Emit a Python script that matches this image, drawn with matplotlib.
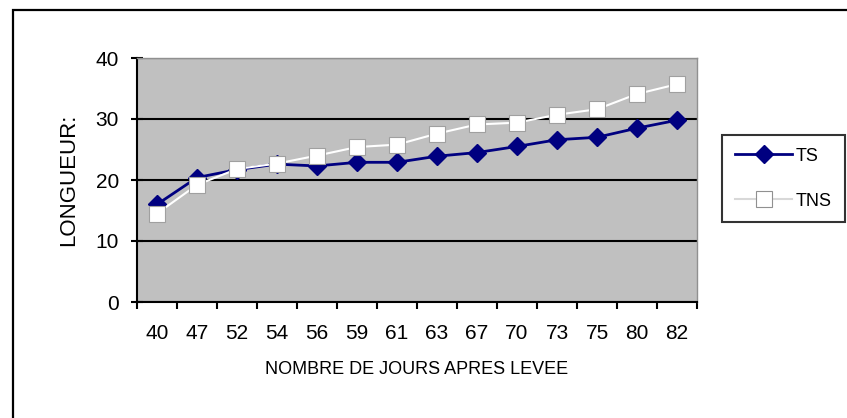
#!/usr/bin/env python3
"""Longueur des plants TS / TNS en fonction du nombre de jours apres levee"""
import numpy as np
import matplotlib.pyplot as plt
from matplotlib.patches import Rectangle

jours = ["40", "47", "52", "54", "56", "59", "61", "63", "67", "70", "73", "75", "80", "82"]
ts = [16.0, 20.4, 21.7, 22.6, 22.3, 22.9, 22.9, 23.9, 24.5, 25.5, 26.6, 27.0, 28.5, 29.8]
tns = [14.5, 19.2, 21.8, 22.7, 24.0, 25.4, 25.8, 27.6, 29.1, 29.4, 30.7, 31.6, 34.1, 35.7]

plt.rcParams["font.family"] = ["Liberation Sans", "DejaVu Sans"]

fig = plt.figure(figsize=(8.47, 4.18), dpi=100)
# cadre du graphique (bords droit et bas hors de l'image)
fig.patches.append(Rectangle((13 / 847, -0.1), 1.1, 1 - 10 / 418 + 0.1,
                             transform=fig.transFigure, fill=False,
                             edgecolor="black", linewidth=1.6))

ax = fig.add_axes([137 / 847, 1 - 302 / 418, 560 / 847, 244 / 418])
ax.set_facecolor("#c0c0c0")

x = np.arange(len(jours))
ax.plot(x, ts, color="#000080", linewidth=2, marker="D", markersize=9,
        markerfacecolor="#000080", markeredgecolor="#000080", label="TS", zorder=3)
ax.plot(x, tns, color="white", linewidth=1.5, marker="s", markersize=11,
        markerfacecolor="white", markeredgecolor="#a0a0a0", markeredgewidth=0.8,
        label="TNS", zorder=4)

ax.set_xlim(-0.5, len(jours) - 0.5)
ax.set_ylim(0, 40)
ax.set_yticks([0, 10, 20, 30, 40])
ax.set_xticks(x)
ax.set_xticklabels(jours)
ax.set_xticks(np.arange(len(jours) + 1) - 0.5, minor=True)
ax.tick_params(axis="x", which="major", length=0, pad=16, labelsize=15)
ax.tick_params(axis="x", which="minor", length=5, width=1.5, direction="out")
ax.tick_params(axis="y", length=8, width=1.5, direction="inout", pad=9, labelsize=15)

ax.grid(axis="y", color="black", linewidth=1.5)
ax.set_axisbelow(True)
for side in ("left", "bottom"):
    ax.spines[side].set_color("black")
    ax.spines[side].set_linewidth(1.5)
for side in ("top", "right"):
    ax.spines[side].set_color("#909090")
    ax.spines[side].set_linewidth(1)

ax.set_xlabel("NOMBRE DE JOURS APRES LEVEE", fontsize=13, labelpad=13)
ax.set_ylabel("LONGUEUR:", fontsize=16, labelpad=12)

leg = fig.legend(loc="upper left", bbox_to_anchor=(722 / 847, 1 - 135 / 418),
                 fontsize=13, frameon=True, fancybox=False, handlelength=3.2,
                 labelspacing=1.55, borderpad=0.7, handletextpad=0.2,
                 borderaxespad=0)
leg.get_frame().set_edgecolor("black")
leg.get_frame().set_linewidth(1.5)
leg.legend_handles[1].set_markeredgecolor("#909090")
leg.legend_handles[1].set_color("#d8d8d8")
leg.legend_handles[1].set_markerfacecolor("white")

plt.savefig("out.png", dpi=100)
